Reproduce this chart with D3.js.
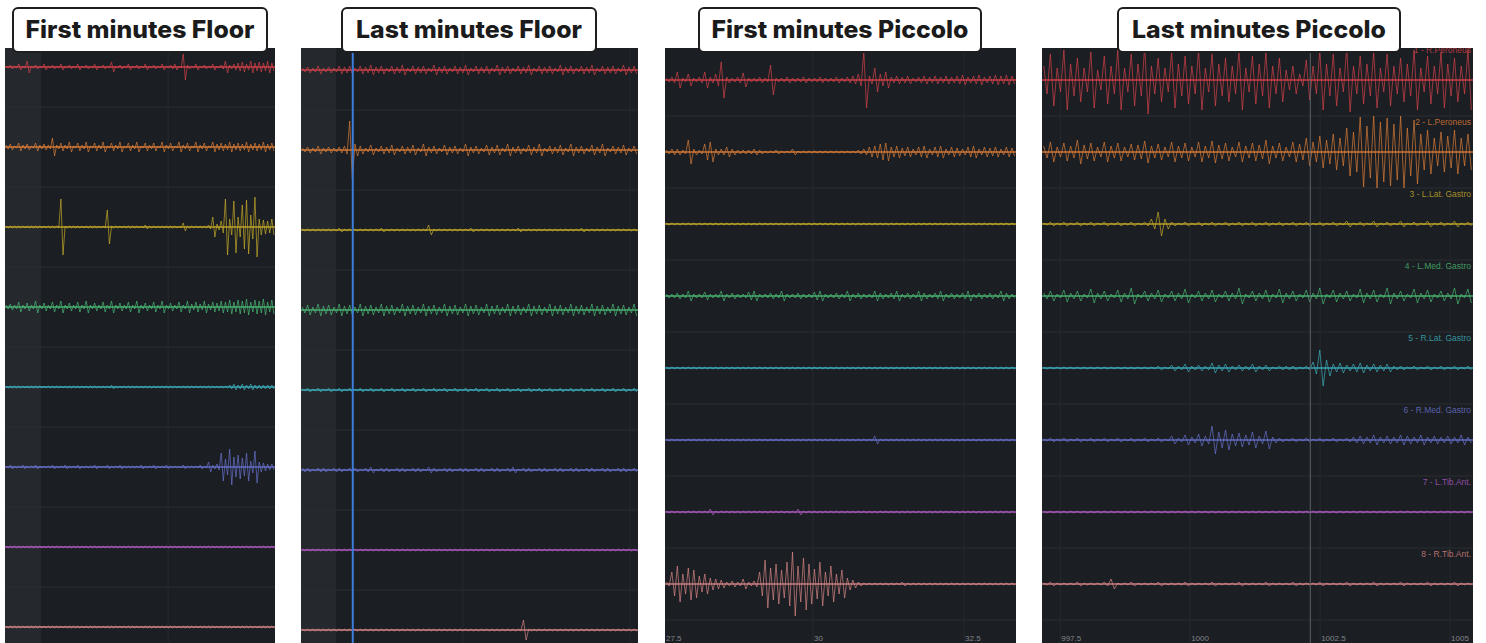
<!DOCTYPE html>
<html>
<head>
<meta charset="utf-8">
<script src="https://cdn.jsdelivr.net/npm/d3@7"></script>
<style>
  body { margin: 0; background: #fff; }
  svg { display: block; }
</style>
</head>
<body>
<svg id="chart" width="1486" height="643"></svg>
<script>
// channels (same 8 muscles in every panel)
const channelNames = ["1 - R.Peroneus", "2 - L.Peroneus", "3 - L.Lat. Gastro", "4 - L.Med. Gastro",
                      "5 - R.Lat. Gastro", "6 - R.Med. Gastro", "7 - L.Tib.Ant.", "8 - R.Tib.Ant."];
const panelTitles = ["First minutes Floor", "Last minutes Floor", "First minutes Piccolo", "Last minutes Piccolo"];

// peak amplitude per time bin (uV), one row per channel
const floorFirst = [
  [1,2,1,3,1,6,1,2,1,3, 1,2,1,3,1,2,1,3,1,2, 1,3,1,2,1,5,1,2,1,3, 1,2,1,3,1,2,1,3,1,2, 3,1,13,2,1,3,1,2,1,3, 1,2,6,2,3,4,5,3,6,4, 5,4,6,4],
  [2,3,1,4,2,3,1,4,2,3, 2,9,2,4,2,5,1,4,2,5, 1,4,2,5,1,4,2,5,1,4, 2,5,1,4,2,4,1,5,2,4, 1,5,2,4,1,5,2,4,1,5, 3,4,3,5,3,4,3,5,3,4, 3,5,3,4],
  [1,1,1,1,1,1,1,1,1,1, 1,1,1,28,1,1,1,1,1,1, 1,1,1,1,17,1,1,1,1,1, 1,1,1,2,1,1,1,1,1,1, 1,1,4,1,1,1,1,1,2,10, 3,6,28,8,26,10,22,27,12,30, 8,7,6,8],
  [2,3,2,5,2,4,2,6,2,4, 2,5,2,6,2,4,2,5,2,6, 2,4,2,5,2,6,2,4,2,5, 2,6,2,4,2,5,2,6,2,4, 2,5,2,6,3,5,3,6,3,5, 4,6,5,7,5,7,6,8,5,7, 6,8,5,7],
  [1,1,1,1,1,1,1,1,1,1, 1,1,1,1,1,1,1,1,1,1, 1,1,1,1,1,2,1,1,1,1, 1,1,1,1,1,1,1,1,1,1, 1,1,1,1,1,1,1,1,1,1, 1,1,1,2,3,2,3,2,3,2, 2,2,2,2],
  [1,2,1,1,2,1,1,2,1,1, 1,2,1,1,2,1,1,2,1,1, 1,2,1,1,2,1,1,2,1,1, 1,1,2,1,1,2,1,1,2,1, 1,1,2,1,1,1,2,1,5,2, 3,14,8,18,10,12,9,14,6,16, 5,4,3,3],
  [1,1,1,1,1,1,1,1,1,1, 1,1,1,1,1,1,1,1,1,1, 1,1,1,1,1,1,1,1,1,1, 1,1,1,1,1,1,1,1,1,1, 1,1,1,1,1,1,1,1,1,1, 1,1,1,1,1,1,1,1,1,1, 1,1,1,1],
  [1,1,1,1,1,1,1,1,1,1, 1,1,1,1,1,1,1,1,1,1, 1,1,1,1,1,1,1,1,1,1, 1,1,1,1,1,1,1,1,1,1, 1,1,1,1,1,1,1,1,1,1, 1,1,1,1,1,1,1,1,1,1, 1,1,1,1]
];

const floorLast = [
  [2,3,2,4,2,3,2,4,3,4, 2,4,3,5,3,4,2,4,3,5, 2,4,3,4,2,5,3,4,2,4, 3,5,2,4,3,4,2,5,3,4, 2,4,3,5,2,4,3,4,2,5, 3,4,2,4,3,5,2,4,3,4, 2,5,3,4],
  [2,3,2,4,2,3,2,3,4,29, 6,4,2,5,2,4,3,5,2,4, 3,5,2,6,3,4,2,5,3,4, 2,6,3,4,2,5,3,5,2,6, 3,4,2,5,3,6,2,4,3,5, 2,6,3,4,2,5,3,6,2,4, 3,5,2,4],
  [1,1,1,1,1,1,1,2,1,1, 1,1,1,1,1,2,1,1,1,1, 1,1,1,1,5,1,1,1,1,1, 1,1,2,1,1,1,1,1,1,1, 1,2,1,1,1,1,1,1,1,1, 1,1,1,2,1,1,1,1,1,1, 1,1,1,1],
  [3,5,3,6,4,5,3,6,4,5, 3,6,4,5,3,6,4,5,3,6, 4,5,3,6,4,5,3,6,4,5, 3,6,4,5,3,6,4,5,3,6, 4,5,3,6,4,5,3,6,4,5, 3,6,4,5,3,6,4,5,3,6, 4,5,3,6],
  [1,2,1,2,1,2,1,2,1,2, 1,2,1,2,1,2,1,2,1,2, 1,2,1,2,1,2,1,2,1,2, 1,2,1,2,1,2,1,2,1,2, 1,2,1,2,1,2,1,2,1,2, 1,2,1,2,1,2,1,2,1,2, 1,2,1,2],
  [2,2,1,2,2,1,2,2,1,2, 2,1,2,3,1,2,2,1,2,2, 1,2,2,1,3,2,1,2,2,1, 2,2,1,2,2,1,2,2,1,2, 3,1,2,2,1,2,2,1,2,2, 1,2,2,1,2,2,1,2,2,1, 2,2,1,2],
  [1,1,1,1,1,1,1,1,1,1, 1,1,1,1,1,1,1,1,1,1, 1,1,1,1,1,1,1,1,1,1, 1,1,1,1,1,1,1,1,1,1, 1,1,1,1,1,1,1,1,1,1, 1,1,1,1,1,1,1,1,1,1, 1,1,1,1],
  [1,1,1,1,1,1,1,1,1,1, 1,1,1,1,1,1,1,1,1,1, 1,1,1,1,1,1,1,1,1,1, 1,1,1,1,1,1,1,1,1,1, 1,1,10,1,1,1,1,1,1,1, 1,1,1,1,1,1,1,1,1,1, 1,1,1,1]
];

const piccoloFirst = [
  [2,3,8,2,6,2,3,8,3,6, 18,3,2,3,7,2,2,3,2,15, 2,2,3,2,2,3,2,2,3,2, 2,3,2,3,4,6,28,4,12,6, 8,3,4,3,4,2,3,4,3,4, 3,4,3,4,5,3,4,5,3,4, 5,4,5,4],
  [2,3,3,2,12,3,2,8,10,3, 3,5,3,2,2,2,3,2,1,1, 2,1,1,3,1,1,1,1,1,1, 1,1,1,1,1,2,3,5,6,8, 9,5,6,4,5,3,5,6,3,5, 6,3,5,4,3,5,6,3,5,4, 5,3,5,4],
  [1,1,1,1,1,1,1,1,1,1, 1,1,1,1,1,1,1,1,1,1, 1,1,1,1,1,1,1,1,1,1, 1,1,1,1,1,1,1,1,1,1, 1,1,1,1,1,1,1,1,1,1, 1,1,1,1,1,1,1,1,1,1, 1,1,1,1],
  [2,2,3,2,5,2,2,4,2,2, 5,2,3,2,2,4,5,2,2,3, 2,5,2,2,3,2,2,4,5,2, 2,3,2,5,2,3,2,2,5,3, 2,3,5,2,3,2,5,3,2,3, 5,2,3,2,3,5,2,3,2,3, 2,5,3,2],
  [1,1,1,1,1,1,1,1,1,1, 1,1,1,1,1,1,1,1,1,1, 1,1,1,1,1,1,1,1,1,1, 1,1,1,1,1,1,1,1,1,1, 1,1,1,1,1,1,1,1,1,1, 1,1,1,1,1,1,1,1,1,1, 1,1,1,1],
  [1,1,1,1,1,1,1,1,1,1, 1,1,1,1,1,1,1,1,1,1, 1,1,1,1,1,1,1,1,1,1, 1,1,1,1,1,1,1,1,4,1, 1,1,1,1,1,1,1,1,1,1, 1,1,1,1,1,1,1,1,1,1, 1,1,1,1],
  [1,1,1,1,1,1,1,1,3,1, 1,1,1,1,1,1,1,1,1,1, 1,1,1,1,3,1,1,1,1,1, 1,1,1,1,1,1,1,1,1,1, 1,1,1,1,1,1,1,1,1,1, 1,1,1,1,1,1,1,1,1,1, 1,1,1,1],
  [2,12,18,10,16,14,8,10,6,5, 4,2,3,2,5,2,3,12,24,16, 20,14,22,32,18,26,20,15,22,12, 18,10,14,6,4,2,1,1,1,1, 1,1,1,2,1,1,1,1,1,1, 1,1,1,1,1,1,1,1,1,1, 1,1,1,1]
];

const piccoloLast = [
  [14,26,12,30,16,22,12,28,10,24, 14,30,12,26,16,34,14,22,12,28, 16,24,14,30,12,26,16,22,14,30, 12,24,16,28,14,22,10,14,6,20, 14,30,16,26,12,32,14,24,16,28, 12,26,14,22,16,30,12,24,14,28, 16,22,14,30],
  [6,10,5,9,6,12,7,9,5,10, 6,9,5,8,7,11,6,8,5,10, 6,9,5,10,6,11,7,9,5,10, 6,9,7,12,6,9,5,10,8,14, 10,16,12,18,14,24,20,35,26,36, 30,34,28,36,24,32,18,22,14,20, 16,22,14,18],
  [1,2,1,2,1,2,1,2,1,2, 1,2,1,2,1,2,5,12,5,2, 1,2,1,2,1,2,1,2,1,2, 1,2,1,2,1,2,1,2,1,2, 1,2,1,2,1,3,1,2,1,3, 1,2,1,3,1,2,1,3,1,2, 1,3,1,2],
  [3,5,2,6,3,5,2,7,3,5, 2,6,3,8,2,5,3,6,2,5, 3,7,2,5,3,6,2,5,3,8, 2,5,3,6,2,7,3,5,2,6, 3,8,2,6,3,5,2,7,3,6, 2,8,3,5,2,7,3,6,2,5, 3,8,2,7],
  [1,1,1,1,1,1,1,1,1,1, 1,1,1,1,1,1,1,2,1,3, 2,4,2,3,2,5,3,4,2,3, 2,4,2,3,1,2,2,2,1,2, 6,18,8,4,5,3,4,5,3,4, 3,4,2,2,1,2,1,2,1,2, 1,2,1,2],
  [1,2,1,2,1,2,1,2,1,2, 1,2,1,2,1,2,1,2,1,4, 2,5,3,6,4,14,8,10,6,7, 5,8,4,9,3,2,1,2,1,2, 1,2,1,2,1,2,3,4,3,5, 3,4,3,5,4,3,5,3,4,3, 4,3,5,3],
  [1,1,1,1,1,1,1,1,1,1, 1,1,1,1,1,1,1,1,1,1, 1,1,1,1,1,1,1,1,1,1, 1,1,1,1,1,1,1,1,1,1, 1,1,1,1,1,1,1,1,1,1, 1,1,1,1,1,1,1,1,1,1, 1,1,1,1],
  [1,2,1,1,1,2,1,1,1,2, 5,1,1,2,1,1,1,2,1,1, 1,2,1,1,1,2,1,1,1,2, 1,1,1,2,1,1,1,2,1,1, 1,2,1,1,1,2,1,1,1,2, 1,1,1,2,1,1,1,2,1,1, 1,2,1,1]
];

// time axis (s) per panel
const timeDomains = [[-0.2, 4.27], [5.075, 10.12], [27.55, 33.36], [997.15, 1005.44]];
const timeTicks = [[2.5], [7.5, 10], [27.5, 30, 32.5], [997.5, 1000, 1002.5, 1005]];
const cursorTimes = [[], [5.85], [], [1002.31]];

const colors = ["#d9434b", "#e07f38", "#c9ae2a", "#4cbd76", "#3db3c0", "#6a74d1", "#b35cc7", "#dc8888"];

const panels = [
  { data: floorFirst,   x0: 5,    x1: 275,  rows: [67, 627], shade: 41,  box: [13, 267],   textW: 229, cursor: "#3b7dd8", labels: false, axis: false },
  { data: floorLast,    x0: 301,  x1: 638,  rows: [70, 630], shade: 336, box: [342, 596],  textW: 226, cursor: "#3b7dd8", labels: false, axis: false },
  { data: piccoloFirst, x0: 665,  x1: 1016, rows: [80, 584], shade: 0,   box: [699, 981],  textW: 257, cursor: "#5d6268", labels: false, axis: true },
  { data: piccoloLast,  x0: 1042, x1: 1473, rows: [80, 584], shade: 0,   box: [1118, 1400], textW: 254, cursor: "#5d6268", labels: true,  axis: true }
];

const W = 1486, H = 643, plotTop = 48;
const svg = d3.select("#chart");
const defs = svg.append("defs");

panels.forEach((p, pi) => {
  const clipId = "clip" + pi;
  defs.append("clipPath").attr("id", clipId)
    .append("rect").attr("x", p.x0).attr("y", plotTop).attr("width", p.x1 - p.x0).attr("height", H - plotTop);

  const g = svg.append("g");
  const body = g.append("g").attr("clip-path", `url(#${clipId})`);

  body.append("rect")
    .attr("x", p.x0).attr("y", plotTop).attr("width", p.x1 - p.x0).attr("height", H - plotTop)
    .attr("fill", "#1b1e22");
  if (p.shade) {
    body.append("rect")
      .attr("x", p.x0).attr("y", plotTop).attr("width", p.shade - p.x0).attr("height", H - plotTop)
      .attr("fill", "#25292e");
  }

  const x = d3.scaleLinear().domain(timeDomains[pi]).range([p.x0, p.x1]);
  const y = d3.scalePoint().domain(channelNames).range(p.rows);
  const step = y.step();

  // grid
  body.selectAll(".hgrid").data(channelNames).enter().append("line")
    .attr("x1", p.x0).attr("x2", p.x1)
    .attr("y1", d => y(d) + step / 2).attr("y2", d => y(d) + step / 2)
    .attr("stroke", "#2a2e33").attr("stroke-width", 1);
  body.selectAll(".vgrid").data(timeTicks[pi]).enter().append("line")
    .attr("x1", d => x(d)).attr("x2", d => x(d))
    .attr("y1", plotTop).attr("y2", H)
    .attr("stroke", "#262a2f").attr("stroke-width", 1);

  // traces: each bin drawn as a max/min pair
  channelNames.forEach((name, ci) => {
    const vals = p.data[ci];
    const bx = d3.scaleLinear().domain([0, vals.length]).range([p.x0, p.x1]);
    const amp = d3.scaleLinear().domain([-40, 40]).range([y(name) + 40, y(name) - 40]);
    const pts = [];
    vals.forEach((v, i) => {
      pts.push([bx(i + 0.25), amp(v)]);
      pts.push([bx(i + 0.75), amp(-v)]);
    });
    body.append("line")
      .attr("x1", p.x0).attr("x2", p.x1).attr("y1", amp(0)).attr("y2", amp(0))
      .attr("stroke", colors[ci]).attr("stroke-width", 1.5).attr("stroke-opacity", 0.9);
    body.append("path")
      .attr("d", d3.line()(pts))
      .attr("fill", "none")
      .attr("stroke", colors[ci]).attr("stroke-width", 0.8).attr("stroke-opacity", 0.85);

    if (p.labels) {
      body.append("text")
        .attr("x", p.x1 - 2).attr("y", y(name) - step / 2 + 9)
        .attr("text-anchor", "end")
        .attr("font-family", "Liberation Sans, Arial, sans-serif")
        .attr("font-size", 8.5)
        .attr("fill", colors[ci]).attr("fill-opacity", 0.8)
        .text(name);
    }
  });

  // cursor lines
  body.selectAll(".cursor").data(cursorTimes[pi]).enter().append("line")
    .attr("x1", d => x(d)).attr("x2", d => x(d))
    .attr("y1", plotTop).attr("y2", H)
    .attr("stroke", p.cursor).attr("stroke-width", pi === 1 ? 2 : 1);

  // time labels along the bottom edge
  if (p.axis) {
    body.selectAll(".tick").data(timeTicks[pi]).enter().append("text")
      .attr("x", d => Math.max(x(d) + 1, p.x0 + 1)).attr("y", 641)
      .attr("font-family", "Liberation Sans, Arial, sans-serif")
      .attr("font-size", 8)
      .attr("fill", "#80868d")
      .text(d => d);
  }

  // title box
  const bw = p.box[1] - p.box[0];
  g.append("rect")
    .attr("x", p.box[0]).attr("y", 8).attr("width", bw).attr("height", 44)
    .attr("rx", 5)
    .attr("fill", "#fff").attr("stroke", "#1e1e1e").attr("stroke-width", 2);
  g.append("text")
    .attr("x", p.box[0] + bw / 2).attr("y", 38)
    .attr("text-anchor", "middle")
    .attr("font-family", "Inter, Roboto, sans-serif")
    .attr("font-weight", 800)
    .attr("font-size", 24)
    .attr("fill", "#1b1b1b")
    .attr("textLength", p.textW)
    .attr("lengthAdjust", "spacingAndGlyphs")
    .text(panelTitles[pi]);
});
</script>
</body>
</html>
